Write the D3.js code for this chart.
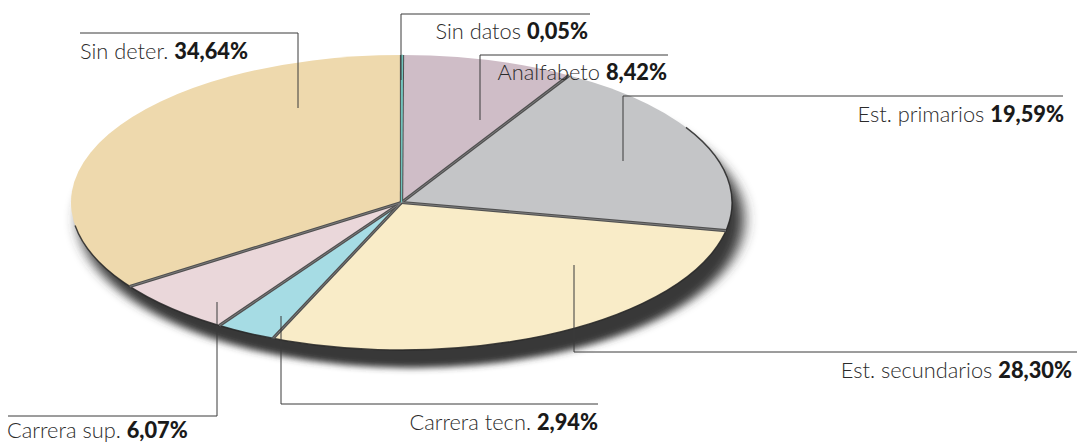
<!DOCTYPE html>
<html>
<head>
<meta charset="utf-8">
<script src="https://cdn.jsdelivr.net/npm/d3@7"></script>
<style>
  html, body { margin: 0; padding: 0; background: #ffffff; }
  svg { display: block; }
  .lbl { font-family: Lato, "Noto Sans", sans-serif; font-size: 21.8px; }
  .nm { font-weight: 300; fill: #2b2b2b; }
  .vl { font-weight: 900; fill: #1a1a1a; }
</style>
</head>
<body>
<svg id="chart" width="1077" height="444"></svg>
<script>
// ---- data ----
const categories = ["Sin datos", "Analfabeto", "Est. primarios", "Est. secundarios", "Carrera tecn.", "Carrera sup.", "Sin deter."];
const values = [0.05, 8.42, 19.59, 28.30, 2.94, 6.07, 34.64];
const colors = ["#6fc2bb", "#cfbdc7", "#c4c5c7", "#f9ecc8", "#a6dce4", "#ead7da", "#eed9ad"];

// ---- layout (annotation leader lines, not data) ----
const labelLayout = [
  { ax: 401, ay: 80,  hy: 14,  hx: 590,  tx: 588,  ty: 39,  anchor: "end" },
  { ax: 480, ay: 120, hy: 55,  hx: 668,  tx: 667,  ty: 80,  anchor: "end" },
  { ax: 623, ay: 161, hy: 96,  hx: 1063, tx: 1064, ty: 122, anchor: "end" },
  { ax: 574, ay: 265, hy: 352, hx: 1077, tx: 1072, ty: 378, anchor: "end" },
  { ax: 281, ay: 316, hy: 404, hx: 598,  tx: 598,  ty: 430, anchor: "end" },
  { ax: 217, ay: 302, hy: 416, hx: 8,    tx: 7,    ty: 438, anchor: "start" },
  { ax: 298, ay: 108, hy: 33,  hx: 80,   tx: 80,   ty: 59,  anchor: "start" }
];

const cx = 401.5, cy = 202.5, rx = 330.5, ry = 147.5;

const svg = d3.select("#chart");
const defs = svg.append("defs");
const f = defs.append("filter").attr("id", "shadow")
  .attr("x", "-20%").attr("y", "-20%").attr("width", "140%").attr("height", "150%");
f.append("feGaussianBlur").attr("stdDeviation", 7);

const pie = d3.pie().sort(null).value(d => d).startAngle(0).endAngle(2 * Math.PI);
const arcs = pie(values);
const arc = d3.arc().innerRadius(0).outerRadius(rx);

// shadow
svg.append("g")
  .attr("transform", `translate(${cx + 10},${cy + 17}) scale(1,${ry / rx})`)
  .append("path")
  .attr("d", d3.arc().innerRadius(0).outerRadius(rx + 2)({ startAngle: 0, endAngle: 2 * Math.PI }))
  .attr("fill", "#383838")
  .attr("filter", "url(#shadow)");

const g = svg.append("g")
  .attr("transform", `translate(${cx},${cy}) scale(1,${ry / rx})`);

// slices
g.selectAll("path.slice")
  .data(arcs)
  .join("path")
  .attr("class", "slice")
  .attr("d", arc)
  .attr("fill", (d, i) => colors[i])
  .attr("stroke", "none");

// outer rim (lower edge only, as lit from above)
const rimArc = d3.arc().innerRadius(rx).outerRadius(rx);
g.append("path")
  .attr("d", rimArc({ startAngle: Math.PI * 0.33, endAngle: Math.PI * 1.45 }))
  .attr("fill", "none")
  .attr("stroke", "#262626")
  .attr("stroke-width", 1.4)
  .attr("stroke-opacity", 0.85)
  .attr("vector-effect", "non-scaling-stroke");

// separators (radial edges)
const edges = arcs.map(d => d.startAngle);
g.selectAll("line.sep")
  .data(edges)
  .join("line")
  .attr("class", "sep")
  .attr("x1", 0).attr("y1", 0)
  .attr("x2", a => rx * Math.sin(a))
  .attr("y2", a => -rx * Math.cos(a))
  .attr("stroke", "#505050")
  .attr("stroke-width", 3.2)
  .attr("vector-effect", "non-scaling-stroke");
g.selectAll("line.hl")
  .data(edges)
  .join("line")
  .attr("class", "hl")
  .attr("x1", 0).attr("y1", 0)
  .attr("x2", a => rx * Math.sin(a))
  .attr("y2", a => -rx * Math.cos(a))
  .attr("stroke", "#858585")
  .attr("stroke-width", 0.8)
  .attr("vector-effect", "non-scaling-stroke");

// Sin datos thin teal wedge drawn over separator
g.append("path")
  .attr("d", d3.arc().innerRadius(0).outerRadius(rx - 1)(arcs[0]))
  .attr("fill", colors[0])
  .attr("stroke", colors[0])
  .attr("stroke-width", 1.2)
  .attr("vector-effect", "non-scaling-stroke");

// leader lines
const loc = d3.formatLocale({ decimal: ",", thousands: ".", grouping: [3], currency: ["", ""] });
const fmt = loc.format(".2f");

const lg = svg.append("g");
lg.selectAll("path.leader")
  .data(labelLayout)
  .join("path")
  .attr("class", "leader")
  .attr("d", d => `M${d.ax},${d.ay}V${d.hy}H${d.hx}`)
  .attr("fill", "none")
  .attr("stroke", "#3a3a3a")
  .attr("stroke-width", 1);

const texts = lg.selectAll("text.lbl")
  .data(labelLayout)
  .join("text")
  .attr("class", "lbl")
  .attr("x", d => d.tx)
  .attr("y", d => d.ty)
  .attr("text-anchor", d => d.anchor);
texts.append("tspan").attr("class", "nm").text((d, i) => categories[i] + " ");
texts.append("tspan").attr("class", "vl").text((d, i) => fmt(values[i]) + "%");
</script>
</body>
</html>
